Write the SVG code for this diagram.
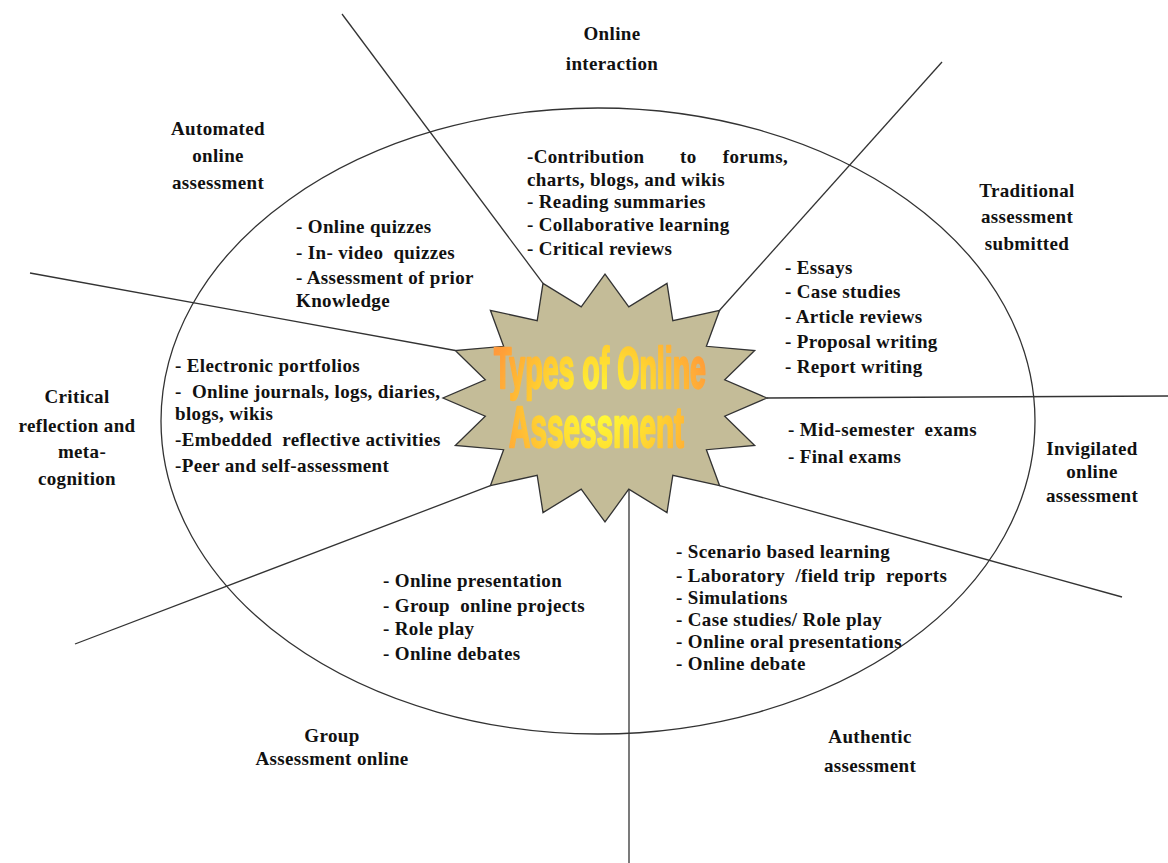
<svg xmlns="http://www.w3.org/2000/svg" width="1168" height="863" viewBox="0 0 1168 863">
  <defs>
    <style>
      .t { font-family: "Liberation Serif", "Times New Roman", serif; font-weight: bold; font-size: 19px; letter-spacing: 0.35px; fill: #111; white-space: pre; }
      .c { text-anchor: middle; }
      .e { text-anchor: end; }
      .rule { stroke: #333; stroke-width: 1.3; fill: none; }
      .title { font-family: "Liberation Sans", Arial, sans-serif; font-weight: bold; font-size: 57px; fill: url(#titleFill); stroke: url(#titleFill); stroke-width: 2.4; stroke-linejoin: round; }
    </style>
    <!-- gradient lives in the half-width coordinate system of the title group -->
    <radialGradient id="titleFill" gradientUnits="userSpaceOnUse" cx="1200" cy="408" r="118"
      gradientTransform="translate(1200 408) scale(2 1) translate(-1200 -408)">
      <stop offset="0" stop-color="#ffff3a"/>
      <stop offset="0.45" stop-color="#ffd930"/>
      <stop offset="1" stop-color="#ff9a3a"/>
    </radialGradient>
    <filter id="soft" x="-10%" y="-10%" width="120%" height="120%">
      <feGaussianBlur stdDeviation="0.7"/>
    </filter>
  </defs>

  <rect width="1168" height="863" fill="#ffffff"/>

  <!-- outer ring -->
  <ellipse id="ring" class="rule" cx="598" cy="421" rx="437" ry="313"/>

  <!-- dividers radiating from the central star -->
  <g id="connectors" class="rule">
    <line x1="342" y1="14" x2="543" y2="283.4"/>
    <line x1="942" y1="62" x2="719.6" y2="310.3"/>
    <line x1="30" y1="273" x2="455.3" y2="350.5"/>
    <line x1="767" y1="398" x2="1168" y2="396"/>
    <line x1="75" y1="644" x2="490.4" y2="485.7"/>
    <line x1="719.6" y1="485.7" x2="1122" y2="597"/>
    <line x1="629" y1="489" x2="629" y2="863"/>
  </g>

  <!-- central star -->
  <g id="hub">
    <polygon fill="#c4bc98" stroke="#333" stroke-width="1.3" stroke-linejoin="miter"
      points="767,398 724.7,379.9 754.7,350.5 706.4,346.3 719.6,310.3 672.8,320.7 667,283.4 628.8,306.8 605,274 581.2,306.8 543,283.4 537.2,320.7 490.4,310.3 503.6,346.3 455.3,350.5 485.3,379.9 443,398 485.3,416.1 455.3,445.5 503.6,449.7 490.4,485.7 537.2,475.3 543,512.6 581.2,489.2 605,522 628.8,489.2 667,512.6 672.8,475.3 719.6,485.7 706.4,449.7 754.7,445.5 724.7,416.1"/>
    <g filter="url(#soft)">
      <g transform="scale(0.5 1)">
        <text class="title" x="988" y="388" textLength="424" lengthAdjust="spacingAndGlyphs">Types of Online</text>
        <text class="title" x="1018" y="447" textLength="350" lengthAdjust="spacingAndGlyphs">Assessment</text>
      </g>
    </g>
  </g>

  <g id="online-interaction">
    <text class="t c" x="612" y="40">Online</text>
    <text class="t c" x="612" y="70">interaction</text>
    <text class="t" x="527" y="163">-Contribution</text>
    <text class="t" x="680" y="163">to</text>
    <text class="t e" x="788" y="163">forums,</text>
    <text class="t" x="527" y="186">charts, blogs, and wikis</text>
    <text class="t" x="527" y="208">- Reading summaries</text>
    <text class="t" x="527" y="231">- Collaborative learning</text>
    <text class="t" x="527" y="255">- Critical reviews</text>
  </g>

  <g id="automated">
    <text class="t c" x="218" y="135">Automated</text>
    <text class="t c" x="218" y="162">online</text>
    <text class="t c" x="218" y="189">assessment</text>
    <text class="t" x="296" y="233">- Online quizzes</text>
    <text class="t" x="296" y="259">- In- video  quizzes</text>
    <text class="t" x="296" y="284">- Assessment of prior</text>
    <text class="t" x="296" y="307">Knowledge</text>
  </g>

  <g id="traditional">
    <text class="t c" x="1027" y="197">Traditional</text>
    <text class="t c" x="1027" y="223">assessment</text>
    <text class="t c" x="1027" y="250">submitted</text>
    <text class="t" x="785" y="274">- Essays</text>
    <text class="t" x="785" y="298">- Case studies</text>
    <text class="t" x="785" y="323">- Article reviews</text>
    <text class="t" x="785" y="348">- Proposal writing</text>
    <text class="t" x="785" y="373">- Report writing</text>
  </g>

  <g id="reflection">
    <text class="t c" x="77" y="403">Critical</text>
    <text class="t c" x="77" y="432">reflection and</text>
    <text class="t c" x="82" y="458">meta-</text>
    <text class="t c" x="77" y="485">cognition</text>
    <text class="t" x="175" y="372">- Electronic portfolios</text>
    <text class="t" x="175" y="398">-  Online journals, logs, diaries,</text>
    <text class="t" x="175" y="420">blogs, wikis</text>
    <text class="t" x="175" y="446">-Embedded  reflective activities</text>
    <text class="t" x="175" y="472">-Peer and self-assessment</text>
  </g>

  <g id="invigilated">
    <text class="t c" x="1092" y="455">Invigilated</text>
    <text class="t c" x="1092" y="478">online</text>
    <text class="t c" x="1092" y="502">assessment</text>
    <text class="t" x="788" y="436">- Mid-semester  exams</text>
    <text class="t" x="788" y="463">- Final exams</text>
  </g>

  <g id="authentic">
    <text class="t" x="676" y="558">- Scenario based learning</text>
    <text class="t" x="676" y="582">- Laboratory  /field trip  reports</text>
    <text class="t" x="676" y="604">- Simulations</text>
    <text class="t" x="676" y="626">- Case studies/ Role play</text>
    <text class="t" x="676" y="648">- Online oral presentations</text>
    <text class="t" x="676" y="670">- Online debate</text>
    <text class="t c" x="870" y="743">Authentic</text>
    <text class="t c" x="870" y="772">assessment</text>
  </g>

  <g id="group">
    <text class="t" x="383" y="587">- Online presentation</text>
    <text class="t" x="383" y="612">- Group  online projects</text>
    <text class="t" x="383" y="635">- Role play</text>
    <text class="t" x="383" y="660">- Online debates</text>
    <text class="t c" x="332" y="742">Group</text>
    <text class="t c" x="332" y="765">Assessment online</text>
  </g>
</svg>
